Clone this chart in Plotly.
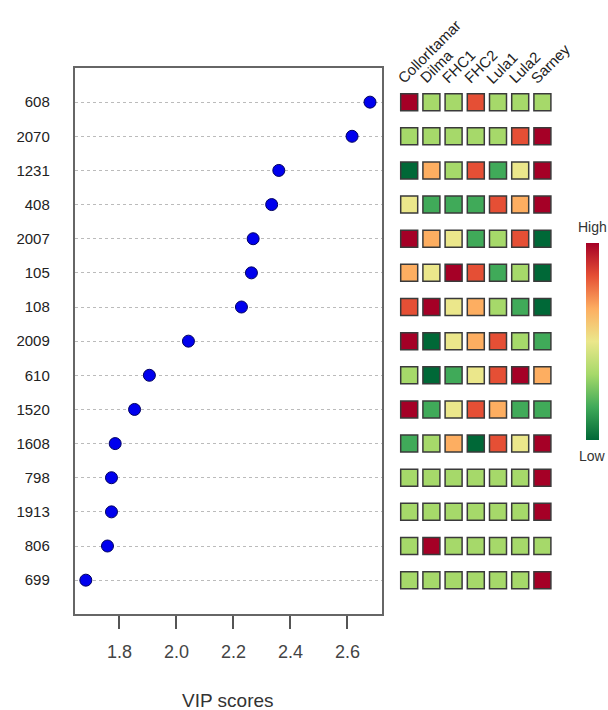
import plotly.graph_objects as go

# Features ranked by VIP score (top = highest)
features = ["608", "2070", "1231", "408", "2007", "105", "108", "2009",
            "610", "1520", "1608", "798", "1913", "806", "699"]
vip_scores = [2.679, 2.616, 2.359, 2.334, 2.269, 2.263, 2.228, 2.042,
              1.905, 1.853, 1.785, 1.772, 1.772, 1.758, 1.682]

groups = ["CollorItamar", "Dilma", "FHC1", "FHC2", "Lula1", "Lula2", "Sarney"]

# Relative concentration level per group (0 = low ... 6 = high)
level_608 = [6, 2, 2, 5, 2, 2, 2]
level_2070 = [2, 2, 2, 2, 2, 5, 6]
level_1231 = [0, 4, 2, 5, 1, 3, 6]
level_408 = [3, 1, 1, 1, 5, 4, 6]
level_2007 = [6, 4, 3, 1, 2, 5, 0]
level_105 = [4, 3, 6, 5, 1, 2, 0]
level_108 = [5, 6, 3, 4, 2, 1, 0]
level_2009 = [6, 0, 3, 4, 5, 2, 1]
level_610 = [2, 0, 1, 3, 5, 6, 4]
level_1520 = [6, 1, 3, 5, 4, 1, 1]
level_1608 = [1, 2, 4, 0, 5, 3, 6]
level_798 = [2, 2, 2, 2, 2, 2, 6]
level_1913 = [2, 2, 2, 2, 2, 2, 6]
level_806 = [2, 6, 2, 2, 2, 2, 2]
level_699 = [2, 2, 2, 2, 2, 2, 6]

levels = [level_608, level_2070, level_1231, level_408, level_2007,
          level_105, level_108, level_2009, level_610, level_1520,
          level_1608, level_798, level_1913, level_806, level_699]

palette = ["#006837", "#40AA59", "#A6D96A", "#EBE78B",
           "#FDAE61", "#E54F35", "#A50026"]
colorscale = [[i / 6, c] for i, c in enumerate(palette)]

W, H = 608, 710
n = len(features)
row_pos = [n - i for i in range(n)]

fig = go.Figure()

# VIP score dot plot
fig.add_trace(go.Scatter(
    x=vip_scores, y=row_pos, mode="markers",
    marker=dict(color="#0000EE", size=12,
                line=dict(color="#000060", width=1)),
    xaxis="x", yaxis="y", showlegend=False, hoverinfo="x+text",
    text=features,
))

# Group-level heat squares
hx, hy, hc = [], [], []
for r, row in enumerate(levels):
    for c, v in enumerate(row):
        hx.append(c)
        hy.append(row_pos[r])
        hc.append(v)

fig.add_trace(go.Scatter(
    x=hx, y=hy, mode="markers", xaxis="x2", yaxis="y2", showlegend=False,
    marker=dict(
        symbol="square", size=17, color=hc, cmin=0, cmax=6,
        colorscale=colorscale,
        line=dict(color="#3a3a3a", width=1.5),
        colorbar=dict(
            thickness=13, thicknessmode="pixels",
            len=197, lenmode="pixels",
            x=585.5 / W, xanchor="left", xpad=0,
            y=1 - 341.5 / H, yanchor="middle", ypad=0,
            outlinewidth=0, showticklabels=False, ticks="",
        ),
    ),
))

font_main = "Liberation Sans, Arial, sans-serif"
box_l, box_r, box_t, box_b = 74.7, 381.7, 68, 614.3
hm_l, hm_r = 398.1, 553.5
pitch = (hm_r - hm_l) / len(groups)

fig.update_layout(
    width=W, height=H,
    margin=dict(l=0, r=0, t=0, b=0),
    paper_bgcolor="white", plot_bgcolor="white",
    font=dict(family=font_main, color="#333333"),
    xaxis=dict(
        domain=[box_l / W, box_r / W], range=[1.643, 2.720],
        tickvals=[1.8, 2.0, 2.2, 2.4, 2.6],
        ticktext=["1.8", "2.0", "2.2", "2.4", "2.6"],
        ticks="outside", ticklen=13, tickwidth=1.5, tickcolor="#555555",
        ticklabelstandoff=7,
        tickfont=dict(size=18, color="#444444"),
        showline=True, linecolor="#666666", linewidth=1.8, mirror=True,
        showgrid=False, zeroline=False, anchor="y",
    ),
    yaxis=dict(
        domain=[1 - box_b / H, 1 - box_t / H], range=[0, n + 1],
        tickvals=row_pos, ticktext=features,
        ticks="", ticklabelstandoff=20,
        tickfont=dict(size=15, color="#222222"),
        showline=True, linecolor="#666666", linewidth=1.8, mirror=True,
        showgrid=True, gridcolor="#BBBBBB", griddash="dot", gridwidth=1,
        zeroline=False, anchor="x",
    ),
    xaxis2=dict(
        domain=[hm_l / W, hm_r / W], range=[-0.5, len(groups) - 0.5],
        visible=False, anchor="y2",
    ),
    yaxis2=dict(
        domain=[1 - box_b / H, 1 - box_t / H], range=[0, n + 1],
        visible=False, anchor="x2",
    ),
)

annotations = []
for i, g in enumerate(groups):
    annotations.append(dict(
        text=g, x=(hm_l + (i + 0.5) * pitch - 18) / W, xref="paper",
        y=1 - 89 / H, yref="paper",
        xanchor="left", yanchor="bottom", textangle=-45, showarrow=False,
        font=dict(size=15, color="#222222"),
    ))

annotations += [
    dict(text="VIP scores", x=(box_l + box_r) / 2 / W, y=1 - 700 / H,
         xref="paper", yref="paper", showarrow=False,
         xanchor="center", yanchor="middle",
         font=dict(size=19, color="#333333")),
    dict(text="High", x=592.5 / W, y=1 - 227 / H, xref="paper", yref="paper",
         xanchor="center", yanchor="middle",
         showarrow=False, font=dict(size=14, color="#333333")),
    dict(text="Low", x=592.5 / W, y=1 - 456 / H, xref="paper", yref="paper",
         xanchor="center", yanchor="middle",
         showarrow=False, font=dict(size=14, color="#333333")),
]
fig.update_layout(annotations=annotations)

fig.write_html("out.html")
